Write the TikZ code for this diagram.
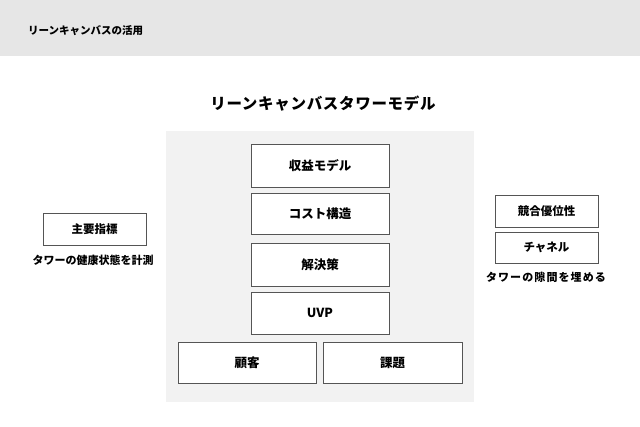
\documentclass[tikz,border=0pt]{standalone}
\usepackage{fontspec}
\setmainfont{Noto Sans CJK JP}
\definecolor{hdr}{HTML}{E6E6E6}
\definecolor{panel}{HTML}{F2F2F2}
\definecolor{edge}{HTML}{555555}
\tikzset{
  box/.style={draw=edge, line width=0.9pt, fill=white, inner sep=0pt, font=\bfseries\fontsize{12.5}{14}\selectfont},
  sbox/.style={draw=edge, line width=0.9pt, fill=white, inner sep=0pt, font=\bfseries\fontsize{11.5}{13}\selectfont},
  lbl/.style={inner sep=0pt, font=\bfseries\fontsize{11}{13}\selectfont},
}
\begin{document}
\begin{tikzpicture}[x=1pt,y=-1pt]
\useasboundingbox (0,0) rectangle (640,426);
\fill[white] (0,0) rectangle (640,426);
\fill[hdr] (0,0) rectangle (640,56);
\node[anchor=west, inner sep=0pt, font=\bfseries\fontsize{10.5}{12}\selectfont] (hdrtitle) at (28,31) {リーンキャンバスの活用};
\node[inner sep=0pt, font=\bfseries\fontsize{15.5}{18}\selectfont\addfontfeatures{LetterSpace=4.5}] (title) at (323,104) {リーンキャンバスタワーモデル};
\fill[panel] (166,131) rectangle (474,402);
\node[box, minimum width=138pt, minimum height=43pt] (rev) at (320,165.5) {収益モデル};
\node[box, minimum width=138pt, minimum height=41pt] (cost) at (320,213.5) {コスト構造};
\node[box, minimum width=138pt, minimum height=43pt] (sol) at (320,264.5) {解決策};
\node[box, minimum width=138pt, minimum height=42pt] (uvp) at (320,313) {UVP};
\node[box, minimum width=138pt, minimum height=41pt] (cust) at (247,362.5) {顧客};
\node[box, minimum width=139pt, minimum height=41pt] (prob) at (392.5,362.5) {課題};
\node[sbox, minimum width=103pt, minimum height=32pt] (kpi) at (94.5,229) {主要指標};
\node[lbl] (kpil) at (93,260) {タワーの健康状態を計測};
\node[sbox, minimum width=103pt, minimum height=32pt] (adv) at (546.5,211) {競合優位性};
\node[sbox, minimum width=103pt, minimum height=31pt] (ch) at (546.5,247.5) {チャネル};
\node[lbl, font=\bfseries\fontsize{11}{13}\selectfont\addfontfeatures{LetterSpace=10}] (chl) at (546,277) {タワーの隙間を埋める};
\end{tikzpicture}
\end{document}
